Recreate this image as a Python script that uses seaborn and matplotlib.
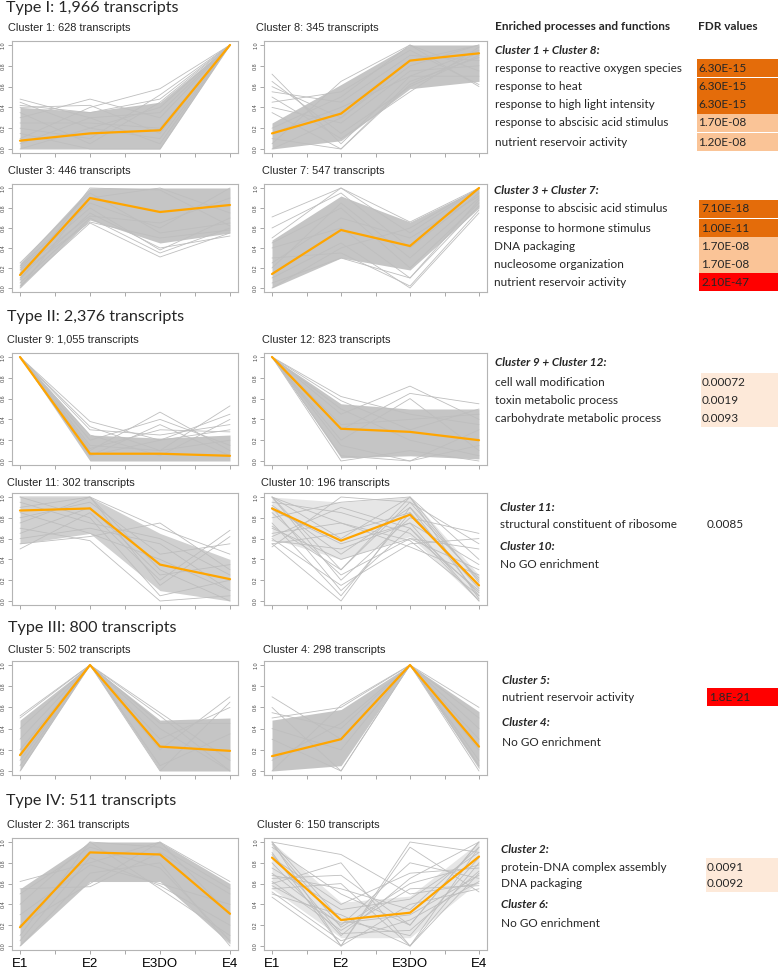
import numpy as np
import pandas as pd
import matplotlib
matplotlib.use("Agg")
import matplotlib.pyplot as plt
from matplotlib.patches import Rectangle
import seaborn as sns

# ---------------- data ----------------
stages = ["E1", "E2", "E3DO", "E4"]

mean_c1 = [0.08, 0.15, 0.18, 1.0]
band_lo_c1 = [0.0, 0.0, 0.0, 1.0]
band_hi_c1 = [0.40, 0.36, 0.45, 1.0]
lines_c1 = [[0.48, 0.30, 0.35, 1.0], [0.45, 0.20, 0.10, 1.0], [0.40, 0.42, 0.15, 1.0],
            [0.30, 0.48, 0.30, 1.0], [0.10, 0.40, 0.58, 1.0], [0.20, 0.10, 0.52, 1.0],
            [0.35, 0.05, 0.45, 1.0], [0.05, 0.30, 0.05, 1.0], [0.00, 0.20, 0.40, 1.0],
            [0.25, 0.25, 0.20, 1.0], [0.15, 0.00, 0.00, 1.0], [0.42, 0.35, 0.48, 1.0]]

mean_c8 = [0.15, 0.34, 0.85, 0.92]
band_lo_c8 = [0.0, 0.08, 0.58, 0.65]
band_hi_c8 = [0.25, 0.62, 1.0, 1.0]
lines_c8 = [[0.72, 0.05, 0.70, 0.95], [0.65, 0.15, 0.60, 0.90], [0.60, 0.30, 0.80, 1.00],
            [0.55, 0.45, 0.90, 0.85], [0.50, 0.10, 0.55, 0.98], [0.45, 0.55, 0.95, 0.62],
            [0.40, 0.25, 0.75, 0.80], [0.35, 0.00, 0.62, 0.93], [0.10, 0.00, 0.65, 0.88],
            [0.05, 0.65, 1.00, 0.60], [0.20, 0.50, 1.00, 0.75], [0.00, 0.30, 0.85, 1.00],
            [0.15, 0.40, 0.70, 0.70]]

mean_c3 = [0.13, 0.90, 0.76, 0.83]
band_lo_c3 = [0.0, 0.68, 0.45, 0.55]
band_hi_c3 = [0.25, 1.0, 1.0, 1.0]
lines_c3 = [[0.02, 0.65, 0.31, 0.55], [0.05, 0.70, 0.35, 0.60], [0.10, 0.75, 0.40, 0.52],
            [0.20, 0.80, 0.38, 0.70], [0.15, 0.66, 0.50, 0.58], [0.25, 0.95, 0.55, 0.65],
            [0.08, 1.00, 0.98, 0.62], [0.22, 0.85, 0.60, 1.00], [0.00, 0.90, 1.00, 0.75],
            [0.18, 0.72, 0.65, 0.90]]

mean_c7 = [0.14, 0.58, 0.42, 1.0]
band_lo_c7 = [0.0, 0.30, 0.18, 0.80]
band_hi_c7 = [0.48, 0.92, 0.66, 1.0]
lines_c7 = [[0.71, 1.00, 0.55, 1.00], [0.60, 0.95, 0.40, 0.95], [0.50, 1.00, 0.66, 1.00],
            [0.45, 0.80, 0.20, 0.85], [0.30, 0.35, 0.02, 0.78], [0.10, 0.45, 0.00, 0.75],
            [0.05, 0.30, 0.10, 0.82], [0.20, 0.85, 0.30, 0.90], [0.40, 0.60, 0.10, 0.88],
            [0.00, 0.40, 0.60, 1.00], [0.25, 0.70, 0.50, 0.92]]

mean_c9 = [1.0, 0.07, 0.07, 0.05]
band_lo_c9 = [1.0, 0.0, 0.0, 0.0]
band_hi_c9 = [1.0, 0.25, 0.22, 0.25]
lines_c9 = [[1, 0.38, 0.20, 0.30], [1, 0.33, 0.10, 0.20], [1, 0.30, 0.25, 0.35],
            [1, 0.10, 0.47, 0.10], [1, 0.20, 0.40, 0.15], [1, 0.05, 0.35, 0.05],
            [1, 0.15, 0.10, 0.53], [1, 0.05, 0.20, 0.45], [1, 0.25, 0.05, 0.40],
            [1, 0.12, 0.30, 0.28]]

mean_c12 = [1.0, 0.31, 0.28, 0.20]
band_lo_c12 = [1.0, 0.03, 0.05, 0.02]
band_hi_c12 = [1.0, 0.55, 0.50, 0.50]
lines_c12 = [[1, 0.62, 0.45, 0.35], [1, 0.58, 0.30, 0.50], [1, 0.45, 0.72, 0.40],
             [1, 0.30, 0.65, 0.55], [1, 0.20, 0.60, 0.10], [1, 0.00, 0.10, 0.00],
             [1, 0.05, 0.00, 0.15], [1, 0.15, 0.00, 0.30], [1, 0.50, 0.20, 0.05],
             [1, 0.35, 0.40, 0.45]]

mean_c11 = [0.87, 0.89, 0.35, 0.21]
band_lo_c11 = [0.55, 0.65, 0.10, 0.0]
band_hi_c11 = [1.0, 1.0, 0.65, 0.40]
lines_c11 = [[0.50, 0.85, 0.20, 0.68], [0.55, 0.62, 0.75, 0.30], [0.60, 0.70, 0.55, 0.10],
             [0.70, 0.58, 0.00, 0.05], [0.80, 0.95, 0.45, 0.55], [0.90, 1.00, 0.30, 0.00],
             [1.00, 1.00, 0.70, 0.45], [1.00, 0.80, 0.05, 0.20], [0.65, 0.90, 0.25, 0.35],
             [0.95, 0.75, 0.60, 0.25], [0.75, 1.00, 0.15, 0.62], [0.85, 0.65, 0.40, 0.10]]

mean_c10 = [0.89, 0.58, 0.83, 0.15]
band_lo_c10 = [0.60, 0.40, 0.62, 0.0]
band_hi_c10 = [1.0, 0.95, 1.0, 0.25]
lines_c10 = [[0.55, 0.00, 0.90, 0.05], [0.90, 0.10, 0.70, 0.00], [0.60, 0.15, 0.55, 0.60],
             [1.00, 0.20, 0.80, 0.65], [0.70, 0.40, 0.60, 0.50], [0.80, 0.95, 1.00, 0.40],
             [0.52, 1.00, 0.95, 0.20], [1.00, 0.30, 0.95, 0.55], [0.65, 0.75, 0.52, 0.25],
             [0.95, 0.85, 0.65, 0.10], [0.58, 0.50, 0.75, 0.00], [0.85, 0.25, 0.60, 0.30],
             [1.00, 0.60, 1.00, 0.02], [0.75, 0.05, 0.85, 0.15], [0.62, 0.90, 0.70, 0.08],
             [0.92, 0.45, 0.90, 0.22], [0.55, 0.65, 0.85, 0.12], [1.00, 0.75, 0.58, 0.05],
             [0.72, 0.30, 1.00, 0.18], [0.88, 0.55, 0.75, 0.35]]

mean_c5 = [0.15, 1.0, 0.23, 0.19]
band_lo_c5 = [0.0, 1.0, 0.0, 0.0]
band_hi_c5 = [0.48, 1.0, 0.48, 0.50]
lines_c5 = [[0.52, 1, 0.20, 0.70], [0.50, 1, 0.55, 0.10], [0.00, 1, 0.52, 0.00],
            [0.30, 1, 0.00, 0.65], [0.10, 1, 0.30, 0.60], [0.40, 1, 0.45, 0.45],
            [0.05, 1, 0.05, 0.35], [0.20, 1, 0.40, 0.00]]

mean_c4 = [0.14, 0.30, 1.0, 0.23]
band_lo_c4 = [0.0, 0.05, 1.0, 0.02]
band_hi_c4 = [0.48, 0.58, 1.0, 0.56]
lines_c4 = [[0.70, 0.30, 1, 0.40], [0.60, 0.00, 1, 0.10], [0.50, 0.60, 1, 0.60],
            [0.00, 0.62, 1, 0.00], [0.30, 0.00, 1, 0.50], [0.40, 0.20, 1, 0.05],
            [0.10, 0.45, 1, 0.30], [0.55, 0.40, 1, 0.20]]

mean_c2 = [0.18, 0.90, 0.88, 0.31]
band_lo_c2 = [0.0, 0.62, 0.62, 0.02]
band_hi_c2 = [0.55, 1.0, 1.0, 0.60]
lines_c2 = [[0.62, 0.80, 1.00, 0.62], [0.55, 0.57, 0.90, 0.50], [0.40, 1.00, 0.55, 0.10],
            [0.00, 0.70, 0.80, 0.00], [0.30, 0.78, 0.60, 0.40], [0.10, 1.00, 0.95, 0.55],
            [0.50, 0.95, 0.75, 0.05], [0.20, 0.60, 1.00, 0.30], [0.05, 0.85, 0.58, 0.20]]

mean_c6 = [0.85, 0.25, 0.32, 0.86]
band_lo_c6 = [0.55, 0.08, 0.08, 0.62]
band_hi_c6 = [1.0, 0.42, 0.48, 1.0]
lines_c6 = [[0.47, 0.00, 0.40, 0.55], [1.00, 0.88, 0.50, 0.60], [0.60, 0.80, 0.00, 0.95],
            [0.65, 0.68, 0.20, 1.00], [0.55, 0.60, 0.00, 0.70], [1.00, 0.00, 1.00, 0.90],
            [0.90, 0.00, 0.95, 0.52], [0.80, 0.10, 0.65, 1.00], [0.50, 0.30, 0.00, 0.80],
            [0.70, 0.20, 0.80, 0.65], [0.95, 0.50, 0.20, 1.00], [0.62, 0.15, 0.55, 0.58],
            [0.85, 0.40, 0.70, 0.75], [1.00, 0.25, 0.10, 0.85], [0.58, 0.22, 0.30, 0.68],
            [0.75, 0.35, 0.45, 0.90], [0.52, 0.05, 0.25, 0.62], [0.98, 0.18, 0.60, 0.78],
            [0.68, 0.55, 0.35, 0.95], [0.88, 0.12, 0.15, 0.72]]

cluster_titles = {
    1: "Cluster 1: 628 transcripts", 8: "Cluster 8: 345 transcripts",
    3: "Cluster 3: 446 transcripts", 7: "Cluster 7: 547 transcripts",
    9: "Cluster 9: 1,055 transcripts", 12: "Cluster 12: 823 transcripts",
    11: "Cluster 11: 302 transcripts", 10: "Cluster 10: 196 transcripts",
    5: "Cluster 5: 502 transcripts", 4: "Cluster 4: 298 transcripts",
    2: "Cluster 2: 361 transcripts", 6: "Cluster 6: 150 transcripts",
}
type_titles = ["Type I: 1,966 transcripts", "Type II: 2,376 transcripts",
               "Type III: 800 transcripts", "Type IV: 511 transcripts"]

go_terms_18 = ["response to reactive oxygen species", "response to heat",
               "response to high light intensity", "response to abscisic acid stimulus",
               "nutrient reservoir activity"]
fdr_18 = ["6.30E-15", "6.30E-15", "6.30E-15", "1.70E-08", "1.20E-08"]
go_terms_37 = ["response to abscisic acid stimulus", "response to hormone stimulus",
               "DNA packaging", "nucleosome organization", "nutrient reservoir activity"]
fdr_37 = ["7.10E-18", "1.00E-11", "1.70E-08", "1.70E-08", "2.10E-47"]
go_terms_912 = ["cell wall modification", "toxin metabolic process",
                "carbohydrate metabolic process"]
fdr_912 = ["0.00072", "0.0019", "0.0093"]
go_terms_11 = ["structural constituent of ribosome"]
fdr_11 = ["0.0085"]
go_terms_5 = ["nutrient reservoir activity"]
fdr_5 = ["1.8E-21"]
go_terms_2 = ["protein-DNA complex assembly", "DNA packaging"]
fdr_2 = ["0.0091", "0.0092"]

clusters = {
    1: (mean_c1, band_lo_c1, band_hi_c1, lines_c1),
    8: (mean_c8, band_lo_c8, band_hi_c8, lines_c8),
    3: (mean_c3, band_lo_c3, band_hi_c3, lines_c3),
    7: (mean_c7, band_lo_c7, band_hi_c7, lines_c7),
    9: (mean_c9, band_lo_c9, band_hi_c9, lines_c9),
    12: (mean_c12, band_lo_c12, band_hi_c12, lines_c12),
    11: (mean_c11, band_lo_c11, band_hi_c11, lines_c11),
    10: (mean_c10, band_lo_c10, band_hi_c10, lines_c10),
    5: (mean_c5, band_lo_c5, band_hi_c5, lines_c5),
    4: (mean_c4, band_lo_c4, band_hi_c4, lines_c4),
    2: (mean_c2, band_lo_c2, band_hi_c2, lines_c2),
    6: (mean_c6, band_lo_c6, band_hi_c6, lines_c6),
}

# ---------------- layout / style ----------------
sns.set_style("white")
W, H = 778, 972
fig = plt.figure(figsize=(W / 100, H / 100), dpi=100)

HEAD_FONT = "Lato"
PLOT_FONT = "Liberation Sans"
GRAY = "#BEBEBE"
BAND = {"dense": "#C5C5C5", "medium": "#D0D0D0", "sparse": "#E6E6E6"}
density = {1: "dense", 8: "dense", 3: "dense", 7: "dense", 9: "dense", 12: "dense",
           11: "medium", 10: "sparse", 5: "dense", 4: "dense", 2: "dense", 6: "sparse"}

LEFT = (20, 230)
RIGHT = (272, 479)
rows = [(45, 149), (188, 288), (357, 461), (497, 601), (665, 771), (842, 946)]
grid = [(1, 8), (3, 7), (9, 12), (11, 10), (5, 4), (2, 6)]
title_y = [28, 171, 340, 483, 650, 825]
left_title_x, right_title_x = [8, 8, 7, 7, 8, 7], [256, 262, 262, 261, 263, 257]

PADX, PADY = 0.12, 0.04


def fx(x):
    return x / W


def fy(y):
    return 1 - y / H


for r, (ca, cb) in enumerate(grid):
    y1, y0 = rows[r]
    for c, (cid, (e1, e4)) in enumerate(zip((ca, cb), (LEFT, RIGHT))):
        unit = (e4 - e1) / 3
        left = e1 - PADX * unit
        right = e4 + PADX * unit
        uy = y0 - y1
        top = y1 - PADY * uy
        bottom = y0 + PADY * uy
        ax = fig.add_axes([fx(left), fy(bottom), (right - left) / W, (bottom - top) / H])
        mean, lo, hi, lines = clusters[cid]
        xs = np.arange(1, 5)
        ax.fill_between(xs, lo, hi, color=BAND[density[cid]], lw=0, zorder=1)
        df = pd.DataFrame([(i, x, v) for i, ln in enumerate(lines) for x, v in zip(xs, ln)],
                          columns=["line", "x", "v"])
        sns.lineplot(data=df, x="x", y="v", units="line", estimator=None, color=GRAY,
                     lw=0.6, ax=ax, zorder=2, legend=False)
        sns.lineplot(x=xs, y=mean, color="#FFA500", lw=1.6, ax=ax, zorder=3)
        ax.set_xlim(1 - PADX, 4 + PADX)
        ax.set_ylim(-PADY, 1 + PADY)
        ax.set_xlabel("")
        ax.set_ylabel("")
        ax.set_yticks(np.linspace(0, 1, 6))
        ax.set_yticklabels([f"{v:.1f}" for v in np.linspace(0, 1, 6)], rotation=90,
                           fontsize=3.9, color="#444444", va="center", family=PLOT_FONT)
        ax.set_xticks([1, 1.5, 2, 2.5, 3, 3.5, 4])
        if r == len(grid) - 1:
            ax.set_xticklabels(["E1", "", "E2", "", "E3DO", "", "E4"], fontsize=9.5,
                               family=PLOT_FONT, color="black")
            ax.tick_params(axis="x", pad=3)
        else:
            ax.set_xticklabels([])
        ax.tick_params(axis="both", which="both", length=3, width=0.6, color="#9A9A9A",
                       direction="out", bottom=True, left=True)
        ax.tick_params(axis="y", pad=1)
        for s in ax.spines.values():
            s.set_color("#B4B4B4")
            s.set_linewidth(0.8)
        ax.set_facecolor("white")
        tx = left_title_x[r] if c == 0 else right_title_x[r]
        fig.text(fx(tx), fy(title_y[r]), cluster_titles[cid], fontsize=7.9,
                 family=PLOT_FONT, va="center", ha="left")

# type headers
for txt, (x, y) in zip(type_titles, [(6, 8), (7, 317), (8, 628), (6, 801)]):
    fig.text(fx(x), fy(y), txt, fontsize=11.6, family=HEAD_FONT, va="center", ha="left")

# ---------------- enrichment table ----------------
TS = 8.45
DARK, LIGHT, PALE, RED = "#E46C0A", "#FAC497", "#FDE9D9", "#FF0000"

fig.text(fx(495), fy(26), "Enriched processes and functions", fontsize=TS, family=HEAD_FONT,
         weight="bold", va="center")
fig.text(fx(698), fy(26), "FDR values", fontsize=TS, family=HEAD_FONT, weight="bold",
         va="center")


def heading(x, y, s):
    fig.text(fx(x), fy(y), s, fontsize=TS, family=HEAD_FONT, weight="bold", style="italic",
             va="center")


def plain(x, y, s):
    fig.text(fx(x), fy(y), s, fontsize=TS, family=HEAD_FONT, va="center")


def block(tx, hy, head, row_ys, terms, fdrs, fdr_x, box_x, colors):
    heading(tx, hy, head)
    for i, (yy, t, f) in enumerate(zip(row_ys, terms, fdrs)):
        plain(tx, yy, t)
        if colors is not None and colors[i] is not None:
            fig.patches.append(Rectangle((fx(box_x), fy(yy + 9.2)), (W - box_x) / W, 18.4 / H,
                                         transform=fig.transFigure, facecolor=colors[i],
                                         edgecolor="none", zorder=0))
        plain(fdr_x, yy, f)


block(495, 50, "Cluster 1 + Cluster 8:", [68, 87, 105, 123, 142], go_terms_18, fdr_18,
      698, 697, [DARK, DARK, DARK, LIGHT, LIGHT])
block(494, 191, "Cluster 3 + Cluster 7:", [209, 228, 246, 264, 282], go_terms_37, fdr_37,
      701, 699, [DARK, DARK, LIGHT, LIGHT, RED])
block(495, 363, "Cluster 9 + Cluster 12:", [382, 400, 418], go_terms_912, fdr_912,
      702, 701, [PALE, PALE, PALE])
block(500, 507, "Cluster 11:", [525], go_terms_11, fdr_11, 707, 707, None)
heading(500, 547, "Cluster 10:")
plain(500, 565, "No GO enrichment")
block(502, 680, "Cluster 5:", [697], go_terms_5, fdr_5, 709, 707, [RED])
heading(502, 723, "Cluster 4:")
plain(502, 742, "No GO enrichment")
block(501, 849, "Cluster 2:", [867, 883], go_terms_2, fdr_2, 707, 706, [PALE, PALE])
heading(501, 905, "Cluster 6:")
plain(501, 923, "No GO enrichment")

fig.savefig("out.png", dpi=100, facecolor="white")
